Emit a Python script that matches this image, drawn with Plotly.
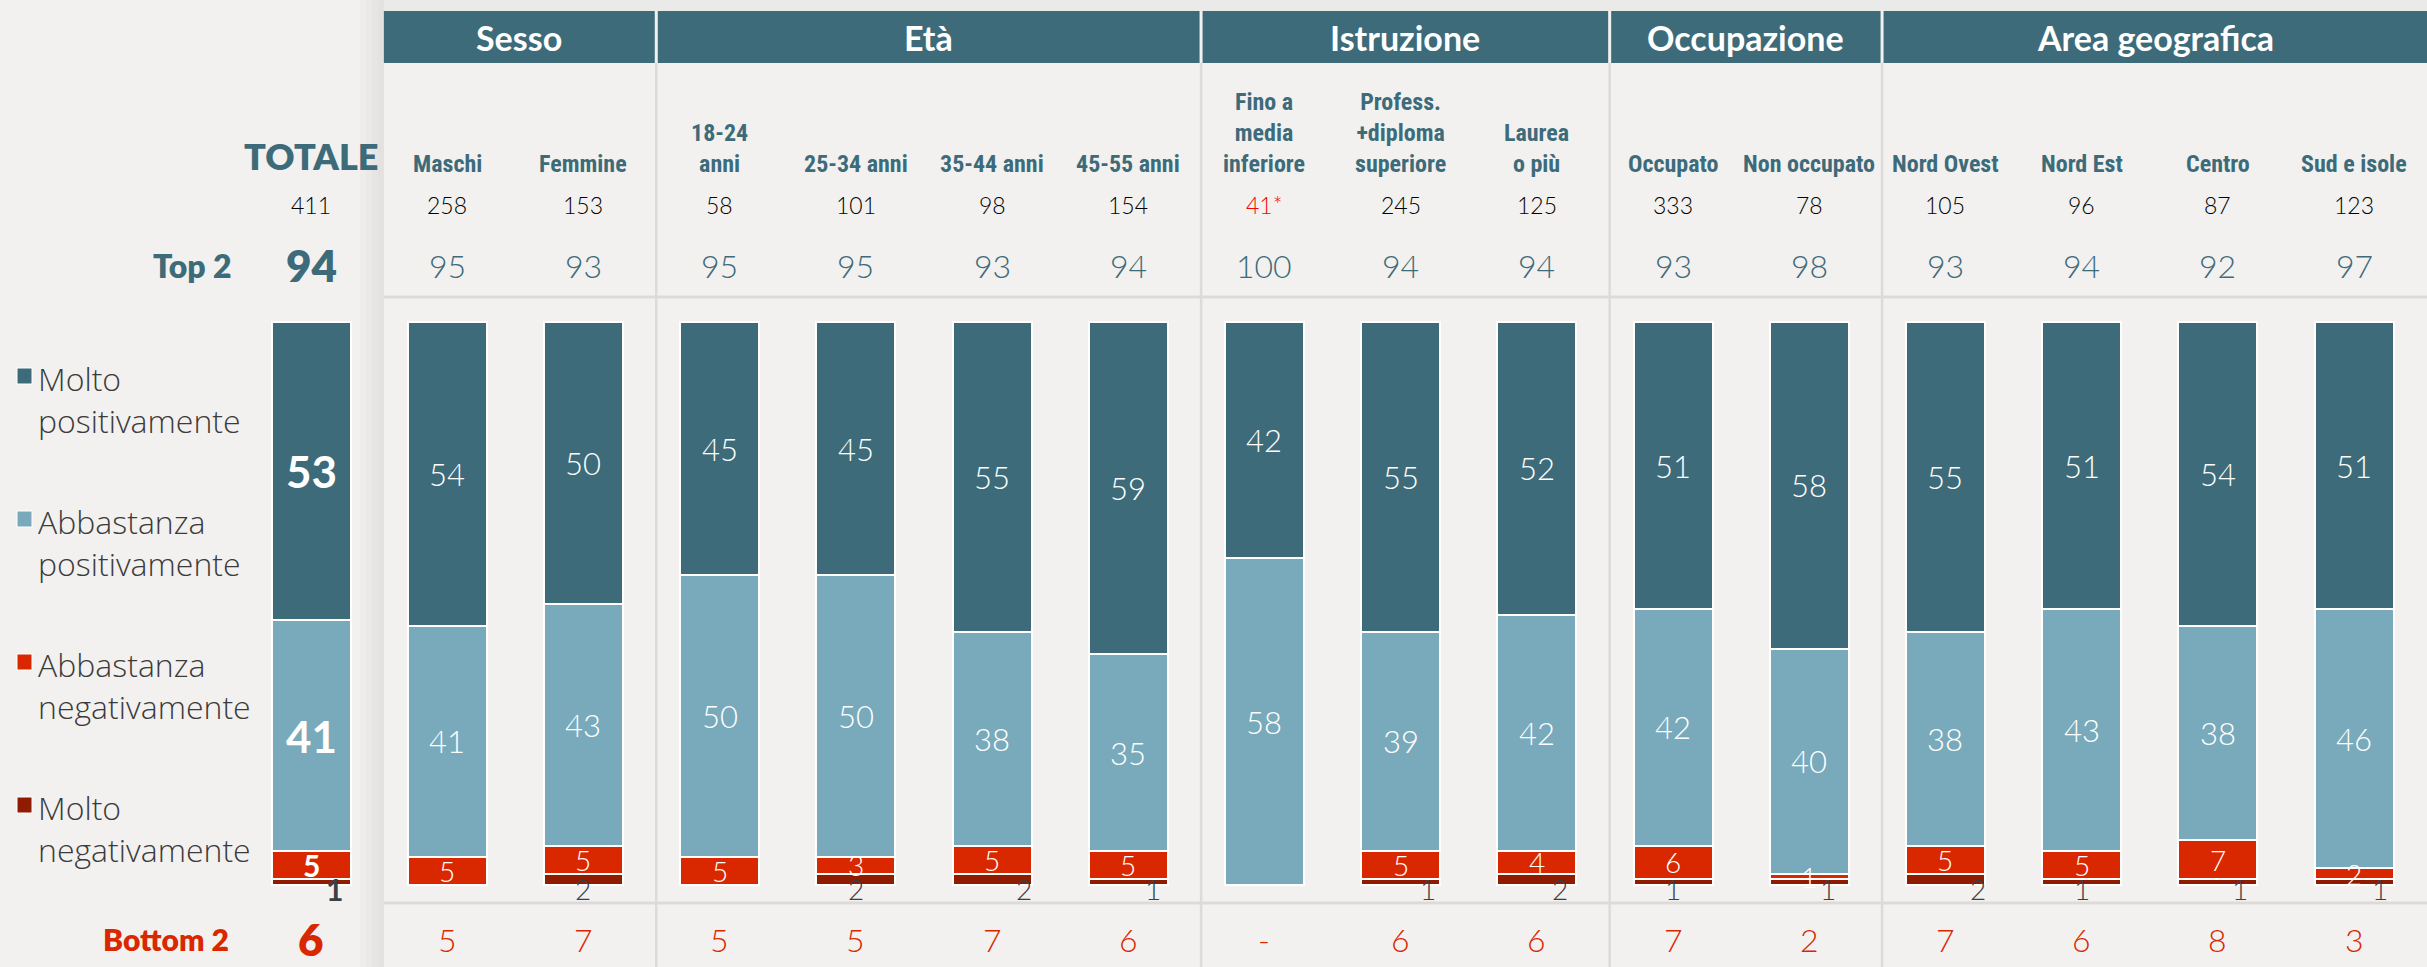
import plotly.graph_objects as go

# --- data -------------------------------------------------------------
categories = ["Totale", "Maschi", "Femmine", "18-24<br>anni", "25-34 anni", "35-44 anni",
              "45-55 anni", "Fino a<br>media<br>inferiore", "Profess.<br>+diploma<br>superiore",
              "Laurea<br>o più", "Occupato", "Non occupato", "Nord Ovest", "Nord Est",
              "Centro", "Sud e isole"]
base_n = ["411", "258", "153", "58", "101", "98", "154", "41*", "245", "125", "333", "78",
          "105", "96", "87", "123"]
top2 = ["94", "95", "93", "95", "95", "93", "94", "100", "94", "94", "93", "98", "93", "94", "92", "97"]
bottom2 = ["6", "5", "7", "5", "5", "7", "6", "-", "6", "6", "7", "2", "7", "6", "8", "3"]

molto_pos = [53, 54, 50, 45, 45, 55, 59, 42, 55, 52, 51, 58, 55, 51, 54, 51]
abb_pos = [41, 41, 43, 50, 50, 38, 35, 58, 39, 42, 42, 40, 38, 43, 38, 46]
abb_neg = [5, 5, 5, 5, 3, 5, 5, 0, 5, 4, 6, 1, 5, 5, 7, 2]
molto_neg = [1, 0, 2, 0, 2, 2, 1, 0, 1, 2, 1, 1, 2, 1, 1, 1]

groups = [("Sesso", 1, 2), ("Età", 3, 6), ("Istruzione", 7, 9),
          ("Occupazione", 10, 11), ("Area geografica", 12, 15)]

legend_names = ["Molto<br>positivamente", "Abbastanza<br>positivamente",
                "Abbastanza<br>negativamente", "Molto<br>negativamente"]

# --- style ------------------------------------------------------------
TEAL = "#3d6b7a"
LIGHT = "#79aabb"
RED = "#d92800"
DARKRED = "#8f1b00"
BG = "#f2f1ef"
GRID = "#dcdbd9"
NUM = "Lato"
HEAD = "Lato"
NARROW = ("Roboto Condensed, Liberation Sans Narrow, Noto Sans Condensed, "
          "DejaVu Sans Condensed, Roboto, sans-serif")

# nudge (px) of the tiny "molto negativamente" labels, as in the source slide
neg_label_dx = [23, 0, 0, 0, 0, 32, 25, 0, 27, 23, 0, 19, 33, 0, 22, 26]

W, H = 2427, 967
X0, DX = 311, 136.2      # centre of first bar, bar pitch (px)
Y0, DY = 885, 5.63       # baseline of bars, px per percent


def X(px):
    return (px - X0) / DX


def Y(py):
    return (Y0 - py) / DY


xs = list(range(len(categories)))
fig = go.Figure()

for name, vals, col in [("Molto negativamente", molto_neg, DARKRED),
                        ("Abbastanza negativamente", abb_neg, RED),
                        ("Abbastanza positivamente", abb_pos, LIGHT),
                        ("Molto positivamente", molto_pos, TEAL)]:
    fig.add_bar(x=xs, y=vals, name=name, width=0.58, showlegend=False,
                marker=dict(color=col, line=dict(color="white", width=2)))

ann = []


def text(x, y, t, size, color, family=NUM, weight=400, **kw):
    ann.append(dict(x=x, y=y, text=t, showarrow=False,
                    font=dict(size=size, color=color, family=family, weight=weight), **kw))


# labels inside bars
for i in xs:
    bold = 700 if i == 0 else 300
    big = 44 if i == 0 else 31
    mn, an, ap, mp = molto_neg[i], abb_neg[i], abb_pos[i], molto_pos[i]
    text(i, mn + an + ap + mp / 2, str(mp), big, "white", weight=bold)
    text(i, mn + an + ap / 2, str(ap), big, "white", weight=bold)
    if an:
        text(i, mn + an / 2, str(an), 28 if i else 30, "white", weight=bold)
    if mn:
        text(i + neg_label_dx[i] / DX, Y(889), str(mn), 28 if i else 30, "#3a3f47", weight=bold)

# header rows
for i in xs:
    if i > 0:
        text(i, Y(180), categories[i], 24, TEAL, family=NARROW, weight=700, yanchor="bottom")
    text(i, Y(205), base_n[i], 23, "#ff0000" if "*" in base_n[i] else "#000000", weight=300)
    if i == 0:
        text(i, Y(265), top2[i], 44, TEAL, family=HEAD, weight=800)
        text(i, Y(939), bottom2[i], 44, RED, family=HEAD, weight=800)
    else:
        text(i, Y(265), top2[i], 32, TEAL, weight=300)
        text(i, Y(939), bottom2[i], 32, RED, weight=300)

text(X(381), Y(156), "TOTALE", 36, TEAL, family=HEAD, weight=800, xanchor="right")
text(X(192), Y(265), "Top 2", 32, TEAL, family=HEAD, weight=800)
text(X(166), Y(939), "Bottom 2", 30, RED, family=HEAD, weight=800)

shapes = []
# card shadow
for x0, x1, c in [(360, 366, "#eeedeb"), (366, 372, "#eae9e7"), (372, 378, "#e6e5e3"), (378, 384, "#e3e2e0")]:
    shapes.append(dict(type="rect", x0=X(x0), x1=X(x1), y0=Y(967), y1=Y(0), line_width=0,
                       fillcolor=c, layer="below"))
shapes.append(dict(type="rect", x0=X(384), x1=X(W), y0=Y(11), y1=Y(0), line_width=0,
                   fillcolor="#eaeae8", layer="below"))

# group header bands and separators
for k, (g, a, b) in enumerate(groups):
    left = a - 0.465 + (0.011 if k else 0)
    right = b + 0.535 - 0.011 if k < len(groups) - 1 else X(W)
    shapes.append(dict(type="rect", x0=left, x1=right, y0=Y(63), y1=Y(11), line_width=0,
                       fillcolor=TEAL))
    text((left + right) / 2, Y(37), g, 34, "white", family=HEAD, weight=700)
    if k:
        shapes.append(dict(type="line", x0=a - 0.465, x1=a - 0.465, y0=Y(63), y1=Y(967),
                           line=dict(color=GRID, width=2.5), layer="below"))
for py in (297, 903):
    shapes.append(dict(type="line", x0=X(384), x1=X(W), y0=Y(py), y1=Y(py),
                       line=dict(color=GRID, width=3), layer="below"))

# legend on the left
for k, (name, col) in enumerate(zip(legend_names, [TEAL, LIGHT, RED, DARKRED])):
    cy = 376 + k * 143
    shapes.append(dict(type="rect", x0=X(17), x1=X(32), y0=Y(cy + 8), y1=Y(cy - 8),
                       fillcolor=col, line=dict(color="white", width=1)))
    ann.append(dict(x=X(36), y=Y(cy - 21), text=name, showarrow=False, xanchor="left",
                    yanchor="top", align="left",
                    font=dict(size=32, color="#3b3b3b", family="Open Sans", weight=300)))

fig.update_layout(
    width=W, height=H, autosize=False,
    margin=dict(l=0, r=0, t=0, b=0, pad=0),
    paper_bgcolor=BG, plot_bgcolor=BG,
    barmode="stack", bargap=0,
    xaxis=dict(range=[X(0), X(W)], visible=False, fixedrange=True),
    yaxis=dict(range=[Y(H), Y(0)], visible=False, fixedrange=True),
    annotations=ann, shapes=shapes,
)

fig.write_html("out.html", config=dict(displayModeBar=False),
               post_script="document.body.style.margin='0';document.body.style.overflow='hidden';")
